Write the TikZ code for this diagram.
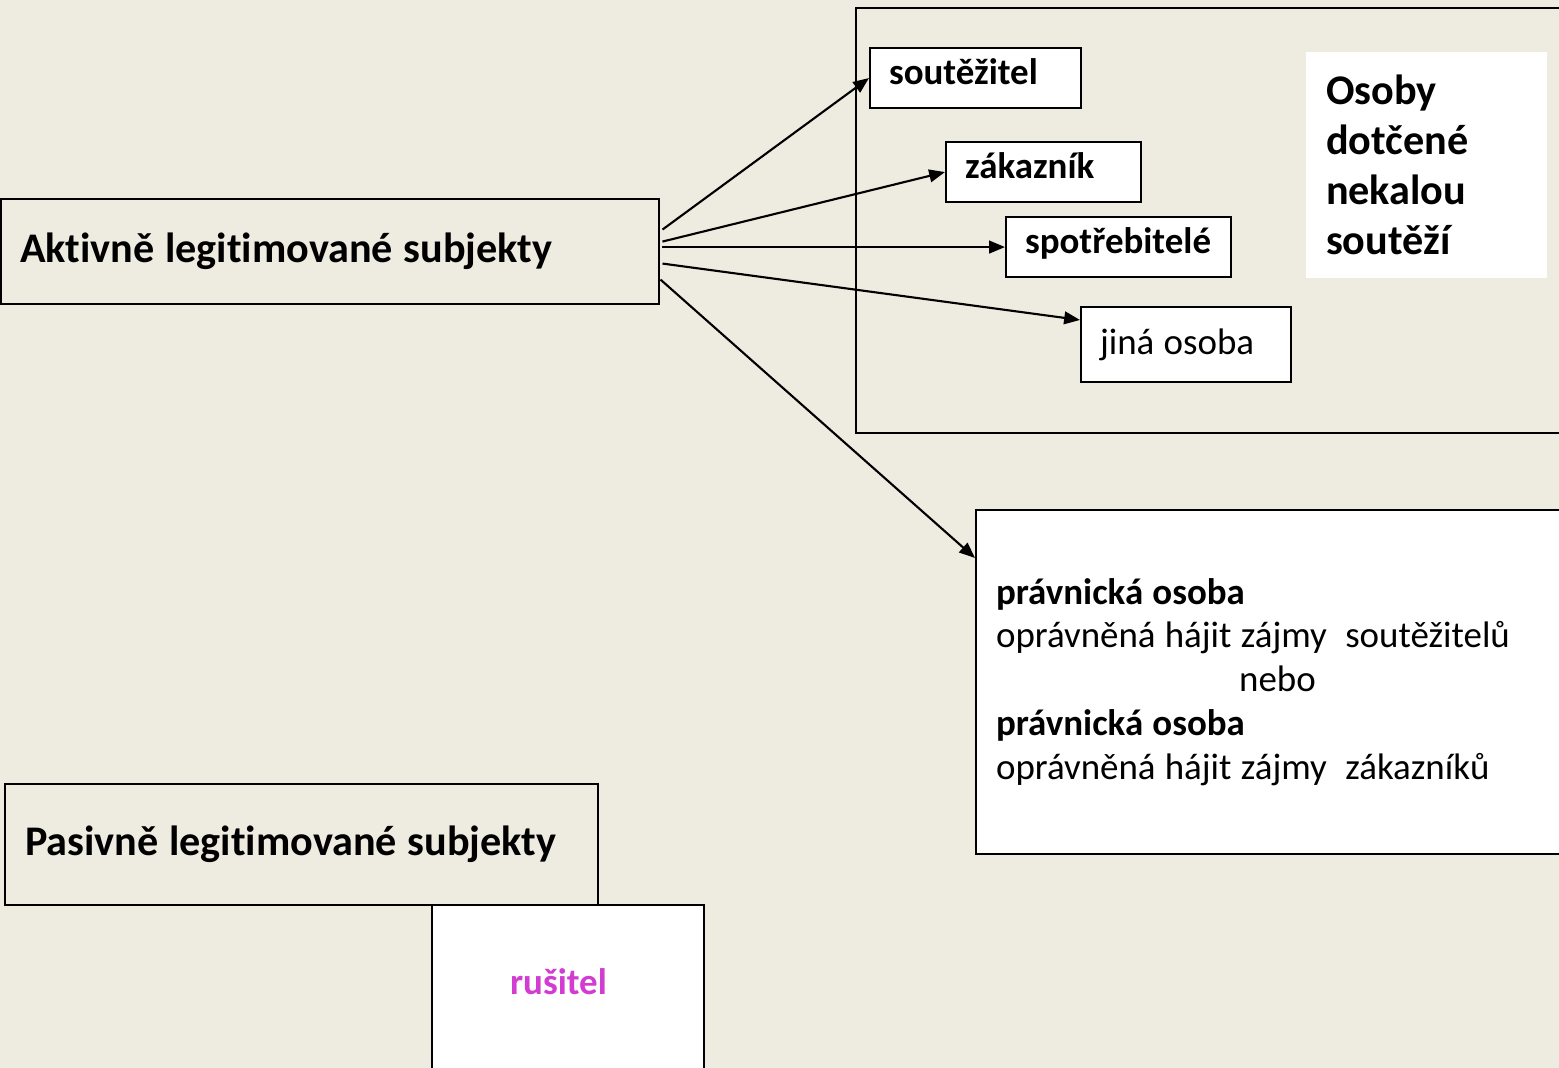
\documentclass[tikz,border=0pt]{standalone}
\usepackage{fontspec}
\setmainfont{Carlito}[Ligatures=NoCommon]
\usepackage{tikz}
\usetikzlibrary{calc,arrows.meta}
\definecolor{paper}{HTML}{EEECE1}
\definecolor{rusicol}{HTML}{D23CD2}

\begin{document}
\begin{tikzpicture}[x=0.01cm,y=-0.01cm,
    box/.style={draw,line width=0.6pt,anchor=north west,inner xsep=0.19cm,align=left,font=\fontsize{12}{14.4}\selectfont\bfseries,
        execute at begin node={\spaceskip=0.25em\relax}},
    smallbox/.style={box,fill=white,inner ysep=0pt,text height=0.36cm,text depth=0.24cm,font=\fontsize{10.5}{12.5}\selectfont\bfseries},
    arr/.style={line width=0.6pt,-{Triangle[length=4.5pt,width=3.6pt]}}]
        \useasboundingbox (0,0) rectangle (1559,1068);
        \fill[paper] (0,0) rectangle (1559,1068);
        % aktivni strana
        \node[box,minimum height=1.05cm,text width=6.2cm] (akt) at (0,198) {Aktivně legitimované subjekty};
        \node[box,minimum width=7.2cm,minimum height=4.25cm] (dotcene) at (855,7) {};
        \node[smallbox,minimum width=2.11cm,text width=1.73cm] (sout) at (869,47) {soutěžitel};
        \node[smallbox,minimum width=1.95cm,text width=1.57cm] (zak) at (945,141) {zákazník};
        \node[smallbox,minimum width=2.25cm,text width=1.87cm] (spot) at (1005,216) {spotřebitelé};
        \node[smallbox,minimum width=2.10cm,text height=0.47cm,text depth=0.28cm,text width=1.72cm,font=\fontsize{10.5}{12.5}\selectfont] (jina) at (1080,306) {jiná osoba};
        \node[box,draw=none,fill=white,inner xsep=0.2cm,minimum width=2.41cm,minimum height=2.26cm,text width=2.01cm,font=\fontsize{12}{14.2}\selectfont\bfseries] (osoby) at (1305,51) {Osoby\\dotčené\\nekalou\\soutěží};
        \node[box,fill=white,minimum width=6.0cm,minimum height=3.44cm,text width=5.6cm,font=\fontsize{10.5}{12.5}\selectfont] (prav) at (975,509) {\textbf{právnická osoba}\\oprávněná hájit zájmy\ \ soutěžitelů\\\hspace*{2.43cm}nebo\\\textbf{právnická osoba}\\oprávněná hájit zájmy\ \ zákazníků};
        % pasivni strana
        \node[box,minimum width=5.93cm,minimum height=1.21cm,text width=5.53cm] (pas) at (4,783) {Pasivně legitimované subjekty};
        \node[box,fill=white,minimum width=2.72cm,inner xsep=0.78cm,inner ysep=0pt,text height=0.89cm,text depth=0.9cm,text width=1.16cm,text=rusicol,font=\fontsize{10.5}{12.5}\selectfont\bfseries] (rus) at (431,904) {rušitel};
        % sipky
        \draw[arr] ($(akt.east)+(2,-22)$) -- (sout.west);
        \draw[arr] ($(akt.east)+(2,-10)$) -- (zak.west);
        \draw[arr] ($(akt.east |- spot.west)+(2,0)$) -- (spot.west);
        \draw[arr] ($(akt.east)+(2,12)$) -- ($(jina.north west)+(0,14)$);
        \draw[arr] ($(akt.east)+(0,28)$) -- ($(prav.north west)+(0,49)$);
    \end{tikzpicture}
\end{document}
